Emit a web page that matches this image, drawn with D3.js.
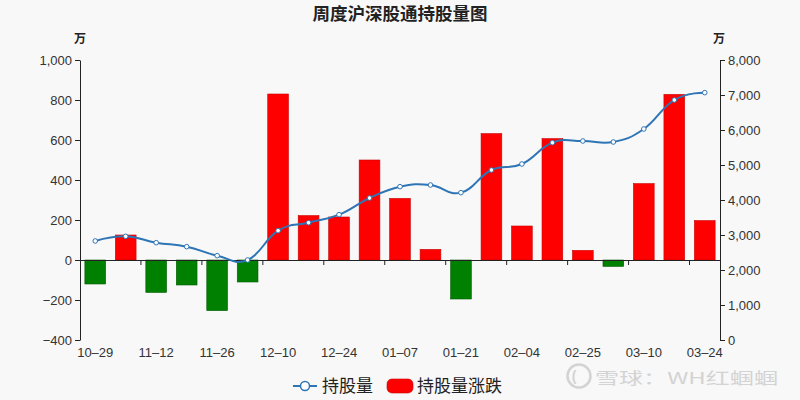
<!DOCTYPE html>
<html><head><meta charset="utf-8">
<script src="https://cdn.jsdelivr.net/npm/d3@7/dist/d3.min.js"></script>
<style>body{margin:0;background:#f8f8f8}svg{display:block}</style>
</head><body>
<svg id="c" width="800" height="400"></svg>
<script>
const title = "周度沪深股通持股量图";
const dates = ["10-29","11-05","11-12","11-19","11-26","12-03","12-10","12-17","12-24","12-31","01-07","01-14","01-21","01-28","02-04","02-18","02-25","03-03","03-10","03-17","03-24"];
const changes = [-120,125,-162,-125,-253,-110,830,222,215,500,308,53,-195,632,170,607,48,-32,382,828,197];
const holdings = [2829,2962,2781,2667,2410,2286,3124,3352,3581,4057,4381,4429,4210,4857,5029,5638,5686,5657,6029,6857,7067];
const leftTicks = [-400,-200,0,200,400,600,800,1000];
const rightTicks = [0,1000,2000,3000,4000,5000,6000,7000,8000];
const seriesNames = ["持股量","持股量涨跌"];
const unit = "万";
const watermark = "雪球：WH红蝈蝈";

const svg = d3.select("#c");
const L = 80, R = 720, T = 60, B = 340;
const font = "'Liberation Sans','Noto Sans CJK SC',sans-serif";
const cjk = "'Noto Sans CJK SC','Liberation Sans',sans-serif";
const txt = "#333";

const x = d3.scaleBand().domain(dates).range([L, R]).padding(0);
const yL = d3.scaleLinear().domain([-400, 1000]).range([B, T]);
const yR = d3.scaleLinear().domain([0, 8000]).range([B, T]);
const bw = x.bandwidth();

svg.append("rect").attr("width",800).attr("height",400).attr("fill","#f8f8f8");

// title
svg.append("text").attr("x",400).attr("y",20).attr("text-anchor","middle")
  .attr("font-family",cjk).attr("font-weight","bold").attr("font-size",17.5).attr("fill","#222").text(title);

// units
svg.append("text").attr("x",L).attr("y",43).attr("text-anchor","middle").attr("font-family",cjk)
  .attr("font-weight","bold").attr("font-size",12).attr("fill","#222").text(unit);
svg.append("text").attr("x",R-1).attr("y",43).attr("text-anchor","middle").attr("font-family",cjk)
  .attr("font-weight","bold").attr("font-size",12).attr("fill","#222").text(unit);

// bars
svg.append("g").selectAll("rect").data(changes).join("rect")
  .attr("x",(d,i)=>x(dates[i]) + bw*0.16)
  .attr("width", bw*0.68)
  .attr("y", d=> d>=0 ? yL(d) : yL(0))
  .attr("height", d=> Math.abs(yL(d)-yL(0)))
  .attr("fill", d=> d>=0 ? "#ff0000" : "#008000")
  .attr("stroke", d=> d>=0 ? "#c80000" : "#005a00")
  .attr("stroke-width",0.6);

// left axis
const gl = svg.append("g").attr("transform",`translate(${L},0)`)
  .call(d3.axisLeft(yL).tickValues(leftTicks).tickSize(5).tickSizeOuter(0).tickPadding(3).tickFormat(d3.format(",")));
gl.selectAll("text").attr("font-family",font).attr("font-size",13).attr("fill",txt);
gl.selectAll("line,path").attr("stroke","#222");

// right axis
const gr = svg.append("g").attr("transform",`translate(${R},0)`)
  .call(d3.axisRight(yR).tickValues(rightTicks).tickSize(5).tickSizeOuter(0).tickPadding(3).tickFormat(d3.format(",")));
gr.selectAll("text").attr("font-family",font).attr("font-size",13).attr("fill",txt);
gr.selectAll("line,path").attr("stroke","#222");

// x axis at zero
const gx = svg.append("g").attr("transform",`translate(0,${yL(0)})`)
  .call(d3.axisBottom(x).tickValues(dates.filter((d,i)=>i%2===0)).tickSize(0).tickSizeOuter(0).tickPadding(0).tickFormat(d=>d.replace("-","–")));
gx.select("path").attr("stroke","#222").attr("stroke-width",1.2);
gx.selectAll(".tick text").attr("font-family",font).attr("font-size",13).attr("fill",txt)
  .attr("y", B - yL(0) + 8).attr("dy","0.71em");
// boundary ticks every two categories
svg.append("g").selectAll("line").data(dates.filter((d,i)=>i%2===0 && i>0)).join("line")
  .attr("x1",d=>x(d)).attr("x2",d=>x(d)).attr("y1",yL(0)).attr("y2",yL(0)+5).attr("stroke","#222");

// line
const lineColor = "#2e75b6";
const line = d3.line().x((d,i)=>x(dates[i])+bw/2).y(d=>yR(d)).curve(d3.curveCardinal.tension(-0.3));
svg.append("path").datum(holdings).attr("d",line).attr("fill","none").attr("stroke",lineColor).attr("stroke-width",2);
svg.append("g").selectAll("circle").data(holdings).join("circle")
  .attr("cx",(d,i)=>x(dates[i])+bw/2).attr("cy",d=>yR(d)).attr("r",2.3)
  .attr("fill","#fff").attr("stroke",lineColor).attr("stroke-width",1);

// legend
const lg = svg.append("g");
lg.append("line").attr("x1",293).attr("x2",317).attr("y1",386).attr("y2",386).attr("stroke",lineColor).attr("stroke-width",2);
lg.append("circle").attr("cx",305).attr("cy",386).attr("r",4.5).attr("fill","#fff").attr("stroke",lineColor).attr("stroke-width",1.5);
lg.append("text").attr("x",322).attr("y",392).attr("font-family",cjk).attr("font-size",17).attr("fill","#222").text(seriesNames[0]);
lg.append("rect").attr("x",387).attr("y",379).attr("width",26).attr("height",14).attr("rx",5).attr("fill","#ff0000").attr("stroke","#c80000").attr("stroke-width",0.6);
lg.append("text").attr("x",417).attr("y",392).attr("font-family",cjk).attr("font-size",17).attr("fill","#222").text(seriesNames[1]);

// watermark
const wm = svg.append("g").attr("opacity",0.9);
wm.append("circle").attr("cx",579).attr("cy",376).attr("r",11.5).attr("fill","none").attr("stroke","#d0d0d0").attr("stroke-width",2.5);
wm.append("text").attr("x",574).attr("y",381).attr("text-anchor","middle").attr("font-family",font).attr("font-weight","bold").attr("font-size",14).attr("fill","#d0d0d0").text("(");
wm.append("text").attr("x",595).attr("y",384).attr("font-family",cjk).attr("font-size",16).attr("fill","#d0d0d0")
  .attr("textLength",183).attr("lengthAdjust","spacingAndGlyphs").text(watermark);
</script>
</body></html>
